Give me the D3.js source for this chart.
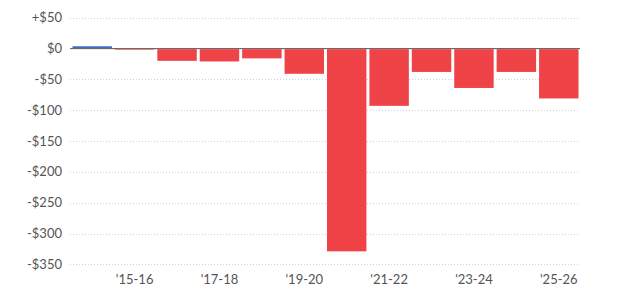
<!DOCTYPE html>
<html>
<head>
<meta charset="utf-8">
<script src="https://cdn.jsdelivr.net/npm/d3@7"></script>
<style>
  body { margin: 0; background: #fff; }
  svg { display: block; font-family: Lato, "Open Sans", sans-serif; }
</style>
</head>
<body>
<div id="chart"></div>
<script>
// fiscal years and surplus/deficit (billions)
var years = ["'14-15", "'15-16", "'16-17", "'17-18", "'18-19", "'19-20",
             "'20-21", "'21-22", "'22-23", "'23-24", "'24-25", "'25-26"];
var balance = [3, -1, -19, -20, -15, -40, -328, -92, -37, -63, -37, -80];
var yTicks = [50, 0, -50, -100, -150, -200, -250, -300, -350];
var xLabelYears = ["'15-16", "'17-18", "'19-20", "'21-22", "'23-24", "'25-26"];

var W = 640, H = 298;
var left = 71, right = 580;

var svg = d3.select("#chart").append("svg")
    .attr("width", W)
    .attr("height", H);

var x = d3.scaleBand()
    .domain(years)
    .range([left, right])
    .paddingInner(0.07)
    .paddingOuter(0.035);

var y = d3.scaleLinear()
    .domain([-350, 50])
    .range([264.4, 17.8]);

// gridlines
svg.append("g")
  .selectAll("line")
  .data(yTicks.filter(function(d) { return d !== 0; }))
  .join("line")
    .attr("x1", left - 1)
    .attr("x2", right)
    .attr("y1", function(d) { return Math.round(y(d)) + 0.5; })
    .attr("y2", function(d) { return Math.round(y(d)) + 0.5; })
    .attr("stroke", "#d0d0d0")
    .attr("stroke-dasharray", "1,2");

// y labels
svg.append("g")
  .selectAll("text")
  .data(yTicks)
  .join("text")
    .attr("x", 62)
    .attr("y", function(d) { return y(d); })
    .attr("dy", "0.35em")
    .attr("text-anchor", "end")
    .attr("fill", "#555")
    .style("font-size", "13px")
    .text(function(d) {
      if (d > 0) return "+$" + d;
      if (d < 0) return "-$" + Math.abs(d);
      return "$0";
    });

// zero line
svg.append("line")
    .attr("x1", left - 1)
    .attr("x2", right)
    .attr("y1", y(0))
    .attr("y2", y(0))
    .attr("stroke", "#555")
    .attr("stroke-width", 1);

// bars (negative ones start just below the zero line)
svg.append("g")
  .selectAll("rect")
  .data(years)
  .join("rect")
    .attr("x", function(d) { return x(d); })
    .attr("width", x.bandwidth())
    .attr("y", function(d, i) { return balance[i] >= 0 ? y(balance[i]) - 0.5 : y(0) + 0.5; })
    .attr("height", function(d, i) { return Math.abs(y(balance[i]) - y(0)); })
    .attr("fill", function(d, i) { return balance[i] >= 0 ? "#3b6fc2" : "#f04348"; });

// x labels
svg.append("g")
  .selectAll("text")
  .data(xLabelYears)
  .join("text")
    .attr("x", function(d) { return x(d) + x.bandwidth() / 2; })
    .attr("y", 284)
    .attr("text-anchor", "middle")
    .attr("fill", "#555")
    .style("font-size", "13px")
    .text(function(d) { return d; });
</script>
</body>
</html>
